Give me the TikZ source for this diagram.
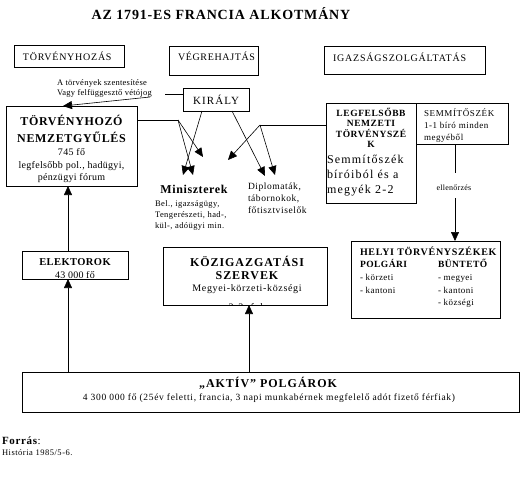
\documentclass[tikz,border=0pt]{standalone}
\usepackage{fontspec}
\setmainfont{Liberation Serif}
\usetikzlibrary{arrows.meta,calc}
\newcommand{\fsz}[1]{\fontsize{#1}{#1}\selectfont}
\newcommand{\LS}[1]{\addfontfeature{LetterSpace=#1}}
\begin{document}
\begin{tikzpicture}[x=1pt,y=-1pt,
  box/.style={draw,line width=0.8pt,inner sep=0pt,outer sep=0pt},
  txt/.style={inner sep=0pt,outer sep=0pt,anchor=base west},
  ctxt/.style={inner sep=0pt,outer sep=0pt,anchor=base},
  arr/.style={-{Triangle[length=9pt,width=8pt]},line width=0.6pt},
  ln/.style={line width=0.6pt}]
\useasboundingbox (0,0) rectangle (520,480);
\fill[white] (0,0) rectangle (520,480);

% title
\node[ctxt,font=\fsz{14}\bfseries\LS{6}] (title) at (221,19.5) {AZ 1791-ES FRANCIA ALKOTMÁNY};

% top category boxes
\node[box,minimum width=110pt,minimum height=22pt] (tvh) at (69,56) {};
\node[txt,font=\fsz{10}\LS{7.5}] (tvht) at (23,60) {TÖRVÉNYHOZÁS};
\node[box,minimum width=89pt,minimum height=29pt] (vegr) at (213.5,60.5) {};
\node[txt,font=\fsz{10}\LS{6.5}] (vegrt) at (178,60) {VÉGREHAJTÁS};
\node[box,minimum width=161pt,minimum height=28pt] (igaz) at (404.5,60) {};
\node[txt,font=\fsz{10}\LS{8}] (igazt) at (333,61) {IGAZSÁGSZOLGÁLTATÁS};

% annotation
\node[txt,font=\fsz{8.5}\LS{3}] (ann1) at (57,85) {A törvények szentesítése};
\node[txt,font=\fsz{8.5}\LS{3}] (ann2) at (57,95) {Vagy felfüggesztő vétójog};

% KIRALY
\node[box,minimum width=66pt,minimum height=23pt,font=\fsz{11}\LS{10}] (kir) at (216,99.5) {KIRÁLY};

% Torvenyhozo nemzetgyules
\node[box,minimum width=131pt,minimum height=80pt] (tnb) at (71.5,146) {};
\node[ctxt,font=\fsz{12}\bfseries\LS{5.5}] (tnb1) at (71.5,125) {TÖRVÉNYHOZÓ};
\node[ctxt,font=\fsz{12}\bfseries\LS{5.5}] (tnb2) at (71.5,142) {NEMZETGYŰLÉS};
\node[ctxt,font=\fsz{10}\LS{3}] (tnb3) at (71.5,155) {745 fő};
\node[ctxt,font=\fsz{10}\LS{3}] (tnb4) at (71.5,168) {legfelsőbb pol., hadügyi,};
\node[ctxt,font=\fsz{10}\LS{3}] (tnb5) at (71.5,180) {pénzügyi fórum};

% Miniszterek
\node[ctxt,font=\fsz{12}\bfseries\LS{5}] (min) at (194,193) {Miniszterek};
\node[txt,font=\fsz{8.5}\LS{5}] (min1) at (155,206.5) {Bel., igazságügy,};
\node[txt,font=\fsz{8.5}\LS{5}] (min2) at (155,217.5) {Tengerészeti, had-,};
\node[txt,font=\fsz{8.5}\LS{5}] (min3) at (155,228.5) {kül-, adóügyi min.};

% Diplomatak
\node[txt,font=\fsz{9.5}\LS{6}] (dip1) at (248,189.5) {Diplomaták,};
\node[txt,font=\fsz{9.5}\LS{6}] (dip2) at (248,201.5) {tábornokok,};
\node[txt,font=\fsz{9.5}\LS{6}] (dip3) at (248,213.5) {főtisztviselők};

% Legfelsobb nemzeti torvenyszek
\node[box,minimum width=90pt,minimum height=100pt] (legf) at (371,153) {};
\node[ctxt,font=\fsz{9.5}\bfseries\LS{6}] (legf1) at (371,116) {LEGFELSŐBB};
\node[ctxt,font=\fsz{9.5}\bfseries\LS{6}] (legf2) at (371,126) {NEMZETI};
\node[ctxt,font=\fsz{9.5}\bfseries\LS{6}] (legf3) at (371,137) {TÖRVÉNYSZÉ};
\node[ctxt,font=\fsz{9.5}\bfseries\LS{6}] (legf4) at (371,147) {K};
\node[txt,font=\fsz{12}\LS{10}] (legf5) at (327,163.5) {Semmítőszék};
\node[txt,font=\fsz{12}\LS{10}] (legf6) at (327,178.5) {bíróiból és a};
\node[txt,font=\fsz{12}\LS{10}] (legf7) at (327,193.5) {megyék 2-2};

% Semmitoszek
\node[box,minimum width=92pt,minimum height=41pt] (semm) at (462,123.5) {};
\node[txt,font=\fsz{9}\LS{7}] (semm1) at (424,116) {SEMMÍTŐSZÉK};
\node[txt,font=\fsz{9}\LS{6}] (semm2) at (424,128) {1-1 bíró minden};
\node[txt,font=\fsz{9}\LS{6}] (semm3) at (424,140) {megyéből};

\node[ctxt,font=\fsz{8}\LS{3}] (ell) at (454,190.5) {ellenőrzés};

% Helyi torvenyszekek
\node[box,minimum width=149pt,minimum height=77pt] (helyi) at (425.5,279.5) {};
\node[txt,font=\fsz{10}\bfseries\LS{7}] (h1) at (360,255.5) {HELYI TÖRVÉNYSZÉKEK};
\node[txt,font=\fsz{9.5}\bfseries\LS{5}] (h2) at (360,267.5) {POLGÁRI};
\node[txt,font=\fsz{9.5}\bfseries\LS{5}] (h3) at (438,267.5) {BÜNTETŐ};
\node[txt,font=\fsz{9}\LS{5}] (h4) at (360,280) {- körzeti};
\node[txt,font=\fsz{9}\LS{5}] (h5) at (360,293) {- kantoni};
\node[txt,font=\fsz{9}\LS{5}] (h6) at (438,280) {- megyei};
\node[txt,font=\fsz{9}\LS{5}] (h7) at (438,293) {- kantoni};
\node[txt,font=\fsz{9}\LS{5}] (h8) at (438,305) {- községi};

% Elektorok
\node[box,minimum width=106pt,minimum height=28pt] (elek) at (75,265) {};
\node[ctxt,font=\fsz{10.5}\bfseries\LS{4}] (elek1) at (75,265.5) {ELEKTOROK};
\node[ctxt,font=\fsz{10}\LS{2}] (elek2) at (75,278) {43 000 fő};

% Kozigazgatasi szervek
\node[box,minimum width=164pt,minimum height=58pt] (kozig) at (245,276) {};
\node[ctxt,font=\fsz{12}\bfseries\LS{8}] (k1) at (247,266) {KÖZIGAZGATÁSI};
\node[ctxt,font=\fsz{12}\bfseries\LS{8}] (k2) at (247,279) {SZERVEK};
\node[ctxt,font=\fsz{10}\LS{6.5}] (k3) at (247,291) {Megyei-körzeti-községi};
\begin{scope}
\clip (163,247) rectangle (327,304);
\node[ctxt,font=\fsz{10}\LS{6.5}] (k4) at (247,310.5) {2-3. fok};
\end{scope}

% Aktiv polgarok
\node[box,minimum width=497pt,minimum height=40pt] (akt) at (270.5,392) {};
\node[ctxt,font=\fsz{12}\bfseries\LS{8}] (akt1) at (268,387) {„AKTÍV” POLGÁROK};
\node[ctxt,font=\fsz{9.5}\LS{7}] (akt2) at (269,400) {4 300 000 fő (25év feletti, francia, 3 napi munkabérnek megfelelő adót fizető férfiak)};

% source
\node[txt,font=\fsz{11}\LS{6}] (forr) at (2,444.5) {\textbf{Forrás}:};
\node[txt,font=\fsz{8.5}\LS{6}] (hist) at (2,455) {História 1985/5-6.};

% coordinates
\coordinate (ex) at (68,0);
\coordinate (kx) at (249,0);
\coordinate (sx) at (455,0);
\coordinate (kirw) at (165,94);
\coordinate (annend) at (150,97);
\coordinate (tnbtop) at (63,0);
\coordinate (tj) at (178,120);
\coordinate (lj) at (260,125);
\coordinate (m1) at (203,157);
\coordinate (m2) at (193,175);
\coordinate (m3) at (183,175);
\coordinate (m4) at (228,160);
\coordinate (d1) at (265,176);
\coordinate (d2) at (275,175);
\coordinate (k1s) at (202,0);
\coordinate (k2s) at (232,0);
\coordinate (ellup) at (455,173);
\coordinate (elldn) at (455,198);

% connectors
\draw[arr] (akt.north -| ex) -- (elek.south -| ex);
\draw[arr] (elek.north -| ex) -- (tnb.south -| ex);
\draw[arr] (akt.north -| kx) -- (kozig.south -| kx);

\draw[ln] (kir.west |- kirw) -- (kirw);
\draw[arr] (annend) -- (tnb.north -| tnbtop);

\draw[ln] (tnb.east |- tj) -- (tj);
\draw[arr] (tj) -- (m1);
\draw[arr] (tj) -- (m2);
\draw[arr] (kir.south -| k1s) -- (m3);
\draw[arr] (kir.south -| k2s) -- (d1);
\draw[ln] (legf.west |- lj) -- (lj);
\draw[arr] (lj) -- (m4);
\draw[arr] (lj) -- (d2);

\draw[ln] (semm.south -| sx) -- (ellup);
\draw[arr] (elldn) -- (helyi.north -| sx);
\end{tikzpicture}
\end{document}
